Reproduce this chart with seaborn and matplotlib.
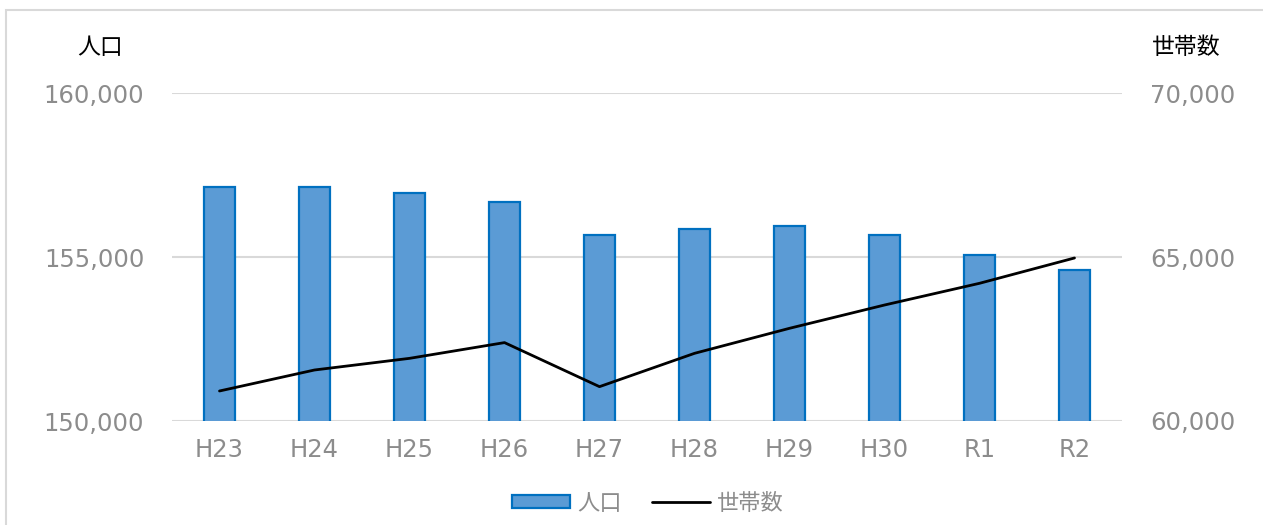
import numpy as np
import pandas as pd
import matplotlib
matplotlib.use("Agg")
import matplotlib.pyplot as plt
import seaborn as sns
from matplotlib.patches import Rectangle, Patch
from matplotlib.lines import Line2D
from matplotlib.ticker import FuncFormatter

years = ["H23", "H24", "H25", "H26", "H27", "H28", "H29", "H30", "R1", "R2"]
population = [157125, 157144, 156951, 156677, 155661, 155854, 155954, 155661, 155061, 154595]
households = [60915, 61555, 61910, 62390, 61047, 62063, 62826, 63536, 64198, 64970]
left_ticks = [150000, 155000, 160000]
right_ticks = [60000, 65000, 70000]

sns.set_theme(style="white")
plt.rcParams['font.family'] = ['DejaVu Sans', 'Noto Sans CJK JP']

W, H = 1263, 525
fig = plt.figure(figsize=(W / 100, H / 100), dpi=100)
ax = fig.add_axes([172 / W, 1 - 421 / H, 950 / W, 328 / H])

df = pd.DataFrame({"year": years, "pop": population})
sns.barplot(data=df, x="year", y="pop", ax=ax, color="#5b9bd5", width=0.33,
            edgecolor="#0070c0", linewidth=1.6, saturation=1)
ax.set_ylim(150000, 160000)
ax.set_xlim(-0.5, len(years) - 0.5)
ax.set_yticks(left_ticks)
ax.yaxis.set_major_formatter(FuncFormatter(lambda v, p: f"{int(v):,}"))
ax.grid(axis="y", color="#d9d9d9", linewidth=1.5)
ax.set_axisbelow(True)
for s in ax.spines.values():
    s.set_visible(False)
ax.set_xlabel("")
ax.set_ylabel("")
ax.tick_params(axis="both", length=0, labelsize=17.5, colors="#8c8c8c")
ax.tick_params(axis="y", pad=20)
ax.tick_params(axis="x", pad=12)

ax2 = ax.twinx()
sns.lineplot(x=np.arange(len(years)), y=households, ax=ax2, color="black", linewidth=2.0)
ax2.set_ylim(60000, 70000)
ax2.set_yticks(right_ticks)
ax2.yaxis.set_major_formatter(FuncFormatter(lambda v, p: f"{int(v):,}"))
for s in ax2.spines.values():
    s.set_visible(False)
ax2.tick_params(axis="y", length=0, labelsize=17.5, colors="#8c8c8c", pad=20)
ax2.set_ylabel("")
ax2.grid(False)
ax2.set_xlim(-0.5, len(years) - 0.5)

fig.text(100 / W, 1 - 47 / H, "人口", ha="center", va="center", fontsize=16.5, color="black")
fig.text(1186 / W, 1 - 47 / H, "世帯数", ha="center", va="center", fontsize=16.5, color="black")

# outer chart border
fig.patches.append(Rectangle((6 / W, -0.1), 1.2, 1 - 10 / H + 0.1, transform=fig.transFigure,
                             fill=False, edgecolor="#d9d9d9", linewidth=1.5))

handles = [Patch(facecolor="#5b9bd5", edgecolor="#0070c0", linewidth=1.6),
           Line2D([0], [0], color="black", linewidth=2.0)]
fig.legend(handles, ["人口", "世帯数"], loc="center", bbox_to_anchor=(648 / W, 1 - 503 / H),
           ncol=2, frameon=False, fontsize=16, labelcolor="#8c8c8c",
           handlelength=2.6, handleheight=0.55, handletextpad=0.3, columnspacing=1.4)

fig.savefig("out.png", dpi=100)
